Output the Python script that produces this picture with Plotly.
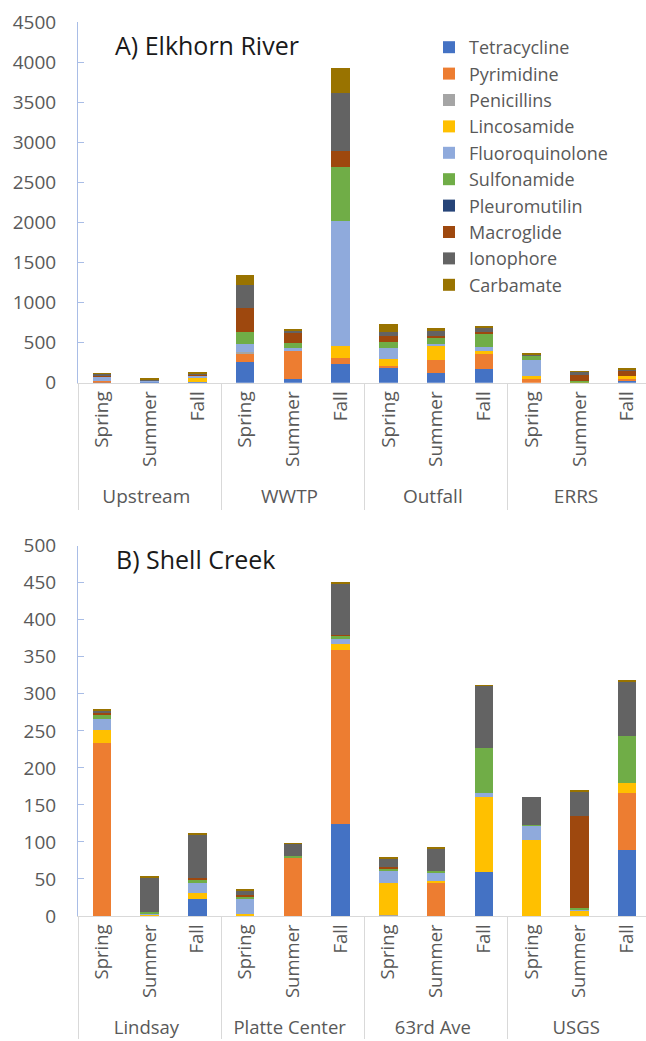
import plotly.graph_objects as go

# ---------------- data ----------------
classes = ["Tetracycline", "Pyrimidine", "Penicillins", "Lincosamide", "Fluoroquinolone",
           "Sulfonamide", "Pleuromutilin", "Macroglide", "Ionophore", "Carbamate"]
colors = ["#4472C4", "#ED7D31", "#A5A5A5", "#FFC000", "#8FAADC",
          "#70AD47", "#264478", "#9E480E", "#636363", "#997300"]

seasons = ["Spring", "Summer", "Fall"] * 4
sites_A = ["Upstream"] * 3 + ["WWTP"] * 3 + ["Outfall"] * 3 + ["ERRS"] * 3
sites_B = ["Lindsay"] * 3 + ["Platte Center"] * 3 + ["63rd Ave"] * 3 + ["USGS"] * 3

# A) Elkhorn River
tetracycline_A = [3, 10, 5, 254, 50, 233, 179, 117, 167, 0, 0, 29]
pyrimidine_A = [15, 0, 0, 100, 350, 79, 33, 167, 192, 42, 0, 21]
penicillins_A = [0, 0, 0, 25, 0, 0, 0, 0, 0, 0, 0, 0]
lincosamide_A = [0, 0, 60, 0, 0, 150, 83, 179, 38, 42, 5, 29]
fluoroquinolone_A = [65, 12, 20, 108, 37, 1550, 142, 21, 54, 196, 0, 0]
sulfonamide_A = [0, 0, 0, 146, 54, 675, 67, 79, 154, 58, 12, 0]
pleuromutilin_A = [0, 0, 0, 5, 0, 0, 0, 0, 0, 0, 0, 0]
macroglide_A = [3, 0, 5, 296, 125, 200, 79, 21, 25, 0, 75, 79]
ionophore_A = [25, 20, 30, 279, 33, 729, 54, 63, 58, 17, 42, 12]
carbamate_A = [8, 8, 10, 125, 10, 313, 96, 33, 12, 8, 8, 8]

# B) Shell Creek
tetracycline_B = [0, 0, 22.5, 0, 0, 124, 0, 0, 60, 0, 0, 89]
pyrimidine_B = [234, 0, 0, 0, 80, 235, 0, 45, 0, 0, 0, 77]
penicillins_B = [0, 0, 0, 0, 0, 0, 1, 0, 0, 0, 0, 0]
lincosamide_B = [17, 3, 8, 2.7, 0, 8, 43, 2.3, 101, 103, 7.2, 13.5]
fluoroquinolone_B = [15, 1, 13.5, 20, 0, 6.8, 16.7, 11.3, 4.5, 19.4, 1.8, 0]
sulfonamide_B = [7, 1, 6, 3.6, 1, 5, 3.6, 1.8, 61, 1, 1.4, 64]
pleuromutilin_B = [0] * 12
macroglide_B = [1, 0, 1, 2.3, 0, 1, 2.3, 0, 0, 0, 124.8, 0]
ionophore_B = [3.6, 48, 60, 6.8, 16.7, 70, 11.7, 31, 84.7, 37, 33.3, 73.4]
carbamate_B = [1, 1, 1, 1, 1, 1, 1, 1.3, 1, 0, 1, 2.3]

values_A = [tetracycline_A, pyrimidine_A, penicillins_A, lincosamide_A, fluoroquinolone_A,
            sulfonamide_A, pleuromutilin_A, macroglide_A, ionophore_A, carbamate_A]
values_B = [tetracycline_B, pyrimidine_B, penicillins_B, lincosamide_B, fluoroquinolone_B,
            sulfonamide_B, pleuromutilin_B, macroglide_B, ionophore_B, carbamate_B]

# ---------------- figure ----------------
FONT = "Open Sans"
GRAY = "#595959"
W, H = 646, 1041
ML, MR, MT, MB = 78, 0, 22, 125
ph = H - MT - MB


def py(pix):
    """paper y fraction for a pixel row"""
    return (H - MB - pix) / ph


def px(pix):
    return (pix - ML) / (W - ML - MR)


fig = go.Figure()
for name, col, vA, vB in zip(classes, colors, values_A, values_B):
    fig.add_trace(go.Bar(x=[sites_A, seasons], y=vA, name=name, marker_color=col,
                         marker_line_width=0, legendgroup=name,
                         xaxis="x", yaxis="y"))
    fig.add_trace(go.Bar(x=[sites_B, seasons], y=vB, name=name, marker_color=col,
                         marker_line_width=0, legendgroup=name, showlegend=False,
                         xaxis="x2", yaxis="y2"))

xcommon = dict(type="multicategory", tickangle=-90, showline=True, linecolor="#D9D9D9",
               linewidth=1, showdividers=True, dividercolor="#D9D9D9", dividerwidth=1,
               showgrid=False, range=[-0.5, 11.395], automargin=False)
ycommon = dict(showline=True, linecolor="#A9BDE6", linewidth=1, ticks="inside",
               ticklen=6, tickcolor="#A9BDE6", showgrid=False, zeroline=False,
               tickfont=dict(family=FONT, size=19, color=GRAY), ticklabelstandoff=17,
               automargin=False)

fig.update_layout(
    width=W, height=H,
    margin=dict(l=ML, r=MR, t=MT, b=MB, autoexpand=False),
    paper_bgcolor="white", plot_bgcolor="white",
    barmode="stack", bargap=0.61,
    xaxis=dict(domain=[0, 1], anchor="y", ticks="outside", ticklen=5,
               tickcolor="rgba(0,0,0,0)",
               tickfont=dict(family=FONT, size=19, color=GRAY), **xcommon),
    yaxis=dict(domain=[py(382.7), 1], anchor="x", range=[0, 4500], dtick=500, **ycommon),
    xaxis2=dict(domain=[0, 1], anchor="y2", ticks="",
                tickfont=dict(family=FONT, size=18.5, color=GRAY), **xcommon),
    yaxis2=dict(domain=[0, py(545.7)], anchor="x2", range=[0, 500], dtick=50, **ycommon),
    legend=dict(x=px(429), y=py(29), xanchor="left", yanchor="top",
                font=dict(family=FONT, size=18, color=GRAY), traceorder="grouped",
                tracegroupgap=0, bgcolor="rgba(0,0,0,0)"),
    showlegend=True,
    annotations=[
        dict(text="A) Elkhorn River", xref="paper", yref="paper",
             x=px(113), y=py(45), xanchor="left", yanchor="middle",
             showarrow=False, font=dict(family=FONT, size=25, color="#1a1a1a")),
        dict(text="B) Shell Creek", xref="paper", yref="paper",
             x=px(114), y=py(559), xanchor="left", yanchor="middle",
             showarrow=False, font=dict(family=FONT, size=25, color="#1a1a1a")),
    ],
)

fig.write_html("out.html", config={"displayModeBar": False},
               post_script="document.body.style.margin='0';document.body.style.overflow='hidden';")
